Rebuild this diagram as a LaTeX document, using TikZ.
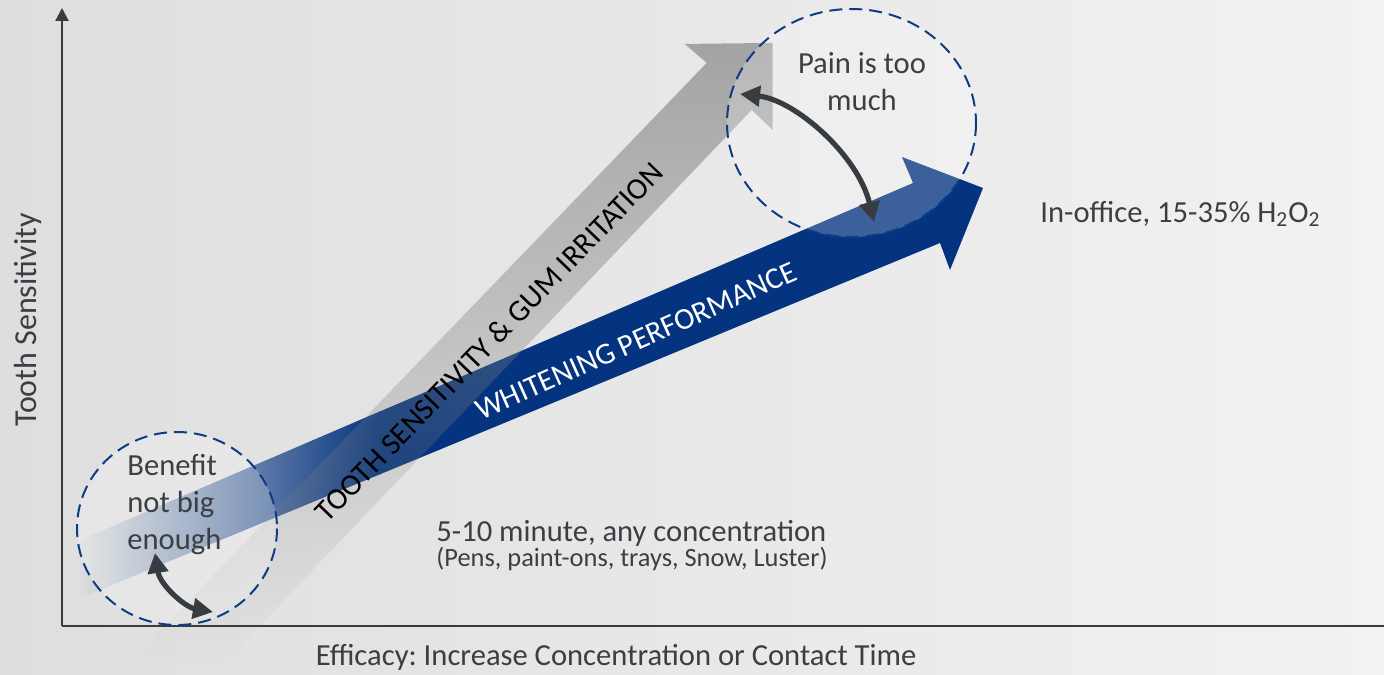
\documentclass[tikz,border=0pt]{standalone}
\usepackage{fontspec}
\setmainfont{Carlito}
\frenchspacing
\usetikzlibrary{arrows.meta,fadings,shadings}
\definecolor{bgL}{HTML}{DEDEDE}
\definecolor{bgR}{HTML}{F2F2F2}
\definecolor{navy}{HTML}{04347F}
\definecolor{arrgray}{HTML}{838383}
\definecolor{dashblue}{HTML}{0E3C84}
\definecolor{slate}{HTML}{373C41}
\definecolor{txt}{HTML}{3A3F44}
\tikzfading[name=grayfade, top color=transparent!0, middle color=transparent!0, bottom color=transparent!100]
\begin{document}
\begin{tikzpicture}[x=0.5pt,y=-0.5pt,
  axisline/.style={draw=slate,line width=1.1pt},
  zone/.style={draw=dashblue,line width=1pt,dash pattern=on 6.5pt off 3.5pt,fill=white,fill opacity=0.22},
  swing/.style={draw=slate,line width=2.6pt,{Triangle[length=10pt,width=10pt]}-{Triangle[length=10pt,width=10pt]}},
  lbl/.style={text=txt,inner sep=0pt,font=\fontsize{15.3}{18.5}\selectfont},
  band/.style={inner sep=0pt,font=\fontsize{15.2}{17}\selectfont}]
\useasboundingbox (0,0) rectangle (1384,674);
\shade[left color=bgL,right color=bgR] (0,0) rectangle (1384,674);

% blue arrow (whitening performance)
\fill[navy,path fading=west] (78,541) -- (380,411.4) -- (380,474.3) -- (78,599) -- cycle;
\fill[navy] (378,412.3) -- (913,183) -- (902,157) -- (983,188) -- (950,270) -- (940,243) -- (378,475.1) -- cycle;

% gray arrow (tooth sensitivity)
\fill[arrgray,fill opacity=0.68,path fading=grayfade] (707,63) -- (685,44) -- (773,43) -- (773,130) -- (752,110) -- (225,662) -- (130,662) -- cycle;

\node[band,rotate=46,text=black] (tsgi) at (489,342) {TOOTH SENSITIVITY \& GUM IRRITATION};
\node[band,rotate=24,text=white] (wp) at (636,341) {WHITENING PERFORMANCE};

% axes
\coordinate (O) at (62,626);
\coordinate (Ytop) at (62,8);
\coordinate (Xend) at (1384,626);
\draw[axisline,-{Triangle[length=6.5pt,width=6.5pt]}] (O) -- (Ytop);
\draw[axisline] (O) -- (Xend);

% zones
\path[zone] (851.5,123) ellipse [x radius=124.5, y radius=114];
\path[zone] (177,528.5) ellipse [x radius=100, y radius=96.5];

% swing arrows
\coordinate (a1) at (740,94);
\coordinate (a2) at (874,222);
\draw[swing] (a1) .. controls (795,100) and (858,155) .. (a2);
\coordinate (b1) at (155,553);
\coordinate (b2) at (213,612);
\draw[swing] (b1) .. controls (160,585) and (185,607) .. (b2);

% labels
\node[lbl,rotate=90,font=\fontsize{16}{18}\selectfont] (ylab) at (28,320) {Tooth Sensitivity};
\node[lbl,anchor=base] (xlab) at (616,665) {Efficacy: Increase Concentration or Contact Time};
\node[lbl,align=center,anchor=north] (pain) at (862,52) {Pain is too\\much};
\node[lbl,align=left,anchor=north west] (benefit) at (127,454) {Benefit\\not big\\enough};
\node[lbl,anchor=base west] (short) at (436,541.5) {5-10 minute, any concentration};
\node[lbl,anchor=base west,font=\fontsize{13.2}{15}\selectfont] (prod) at (436,566.5) {(Pens, paint-ons, trays, Snow, Luster)};
\node[lbl,anchor=base west] (office) at (1040,222) {In-office, 15-35\% H\textsubscript{2}O\textsubscript{2}};
\end{tikzpicture}
\end{document}
